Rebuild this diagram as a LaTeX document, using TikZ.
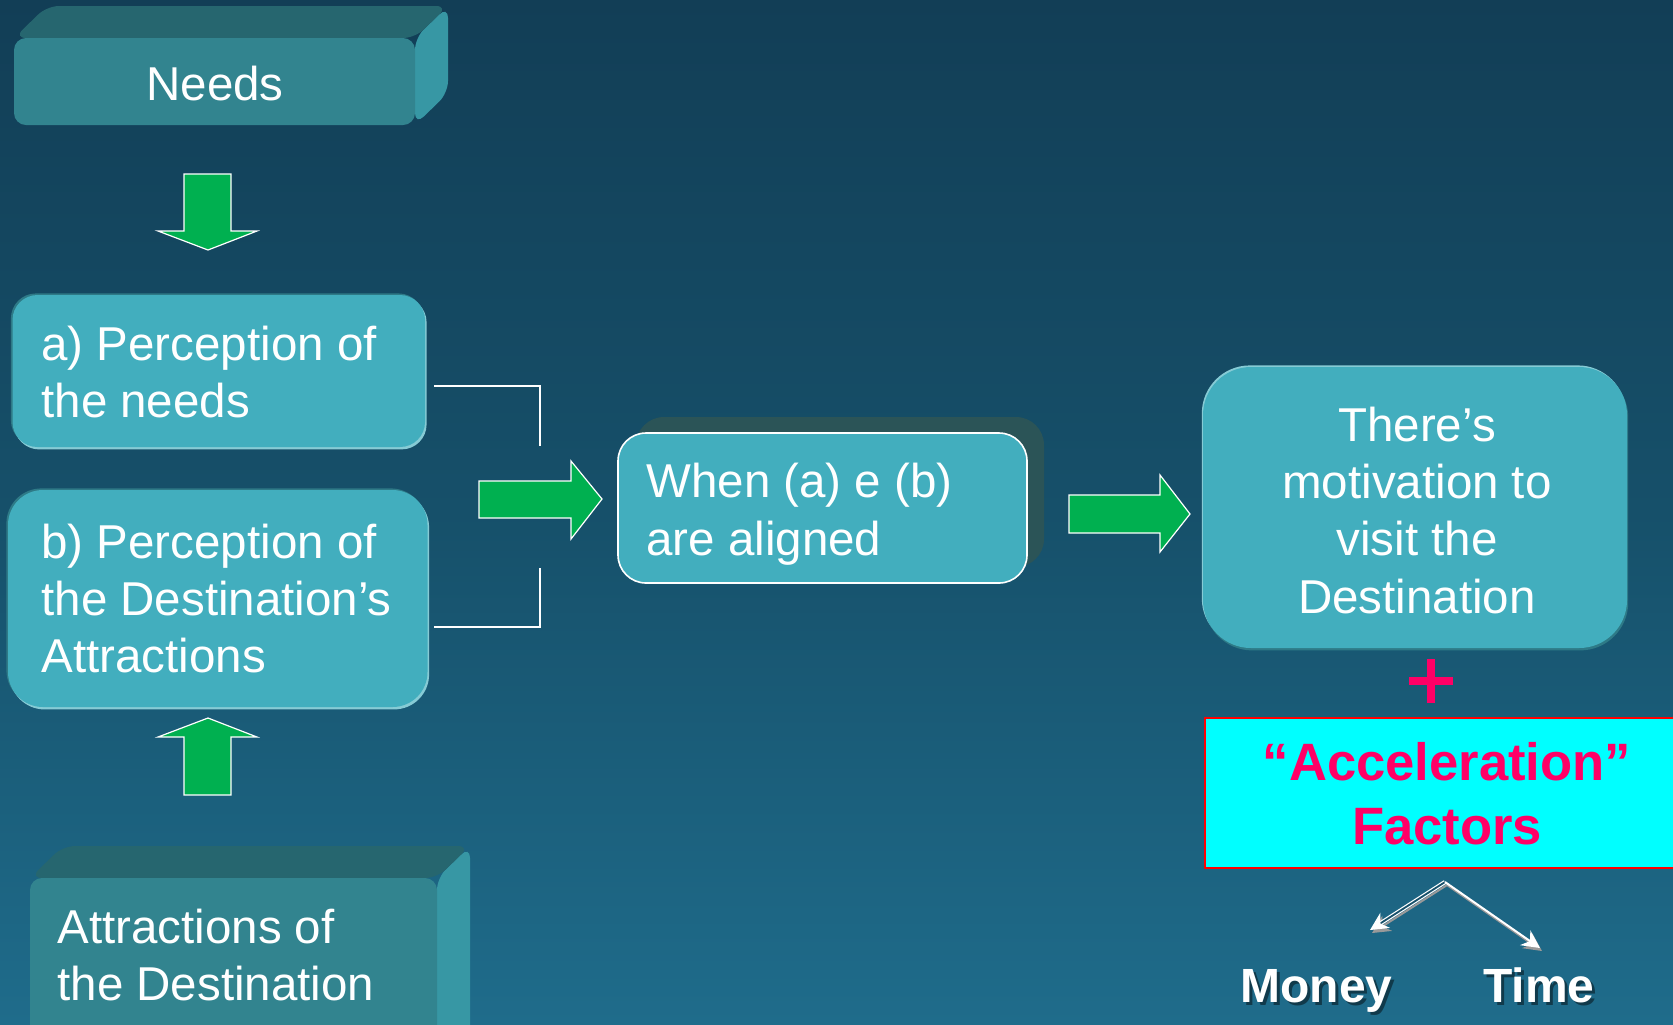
\documentclass[tikz,border=0pt]{standalone}
\usepackage{fontspec}
\setmainfont{Liberation Sans}
\usetikzlibrary{arrows.meta}

\definecolor{bgtop}{HTML}{123E56}
\definecolor{bgmid}{HTML}{16506A}
\definecolor{bgbot}{HTML}{1F6C8B}
\definecolor{tealbox}{HTML}{42AEBE}
\definecolor{tealhi}{HTML}{86CBD5}
\definecolor{teallo}{HTML}{2E7A87}
\definecolor{frontface}{HTML}{32848F}
\definecolor{topface}{HTML}{26666F}
\definecolor{sideface}{HTML}{3797A4}
\definecolor{shadowbox}{HTML}{2B5457}
\definecolor{arrowgreen}{HTML}{00B050}
\definecolor{accpink}{HTML}{FF0066}
\definecolor{accfill}{HTML}{00FFFF}
\definecolor{accline}{HTML}{FF0000}

\tikzset{
  txt/.style={text=white, inner sep=0pt, font=\fontsize{23.75}{28}\selectfont},
  boldtxt/.style={inner sep=0pt, font=\bfseries\fontsize{24}{28}\selectfont},
  tealnode/.style={fill=tealbox, inner sep=0pt, outer sep=0pt},
  greenarrow/.style={fill=arrowgreen, draw=white, line width=0.6pt, line join=miter},
  conn/.style={draw=white, line width=0.6pt},
  whitearrow/.style={draw=white, line width=1pt, -{Stealth[length=9pt,width=9pt,fill=white]}},
  greyarrow/.style={draw=gray!80, line width=1pt, -{Stealth[length=9pt,width=9pt,fill=gray!80]}},
}

\begin{document}
\begin{tikzpicture}[x=0.5pt,y=-0.5pt]
\useasboundingbox (0,0) rectangle (1673,1024);
\clip (0,0) rectangle (1673,1024);

% background
\shade[top color=bgtop, bottom color=bgbot, middle color=bgmid] (0,0) rectangle (1673,1024);

% ---- 3D box: Needs ----
\fill[sideface, rounded corners=6pt] (415,38) -- (448,6) -- (448,93) -- (415,125) -- cycle;
\fill[topface, rounded corners=6pt] (14,38) -- (47,6) -- (448,6) -- (415,38) -- cycle;
\node[fill=frontface, rounded corners=6pt, inner sep=0pt, minimum width=200.5pt, minimum height=43.5pt] (needsbox) at (214.5,81.5) {};
\node[txt, anchor=base] (needs) at (215,100) {Needs};

% ---- 3D box: Attractions of the Destination ----
\fill[sideface, rounded corners=6pt] (437,878) -- (470,846) -- (470,1040) -- (437,1072) -- cycle;
\fill[topface, rounded corners=6pt] (30,878) -- (63,846) -- (470,846) -- (437,878) -- cycle;
\node[fill=frontface, rounded corners=6pt, inner sep=0pt, minimum width=203.5pt, minimum height=90pt] (attrbox) at (233.5,968) {};
\node[txt, anchor=base west] (attr1) at (57,943) {Attractions of};
\node[txt, anchor=base west] (attr2) at (57,1000) {the Destination};

% ---- vertical arrows ----
\draw[greenarrow] (184,174) -- (231,174) -- (231,231) -- (257,231) -- (208,250) -- (158,231) -- (184,231) -- cycle;
\draw[greenarrow] (208,718) -- (257,737) -- (231,737) -- (231,795) -- (184,795) -- (184,737) -- (158,737) -- cycle;

% ---- a) and b) boxes ----
\node[tealnode, rounded corners=12.5pt, minimum width=206.25pt, minimum height=76pt,
  preaction={fill=teallo, rounded corners=12.5pt, transform canvas={shift={(-0.8pt,0.8pt)}}},
  preaction={fill=tealhi, rounded corners=12.5pt, transform canvas={shift={(0.8pt,-1.2pt)}}}]
  (abox) at (218.75,371) {};
\node[txt, anchor=base west] (a1) at (41,360) {a) Perception of};
\node[txt, anchor=base west] (a2) at (41,417) {the needs};

\node[tealnode, rounded corners=17.5pt, minimum width=209.75pt, minimum height=108.5pt,
  preaction={fill=teallo, rounded corners=17.5pt, transform canvas={shift={(-0.8pt,0.8pt)}}},
  preaction={fill=tealhi, rounded corners=17.5pt, transform canvas={shift={(0.8pt,-1.2pt)}}}]
  (bbox) at (217.75,598.5) {};
\node[txt, anchor=base west] (b1) at (41,558) {b) Perception of};
\node[txt, anchor=base west] (b2) at (41,615) {the Destination’s};
\node[txt, anchor=base west] (b3) at (41,672) {Attractions};

% ---- bracket connectors ----
\coordinate (ja) at (540,446);
\coordinate (jb) at (540,568);
\draw[conn] ([xshift=4.5pt,yshift=-7.5pt]abox.east) -| (ja);
\draw[conn] (jb) |- ([xshift=3.25pt,yshift=-14.25pt]bbox.east);

% ---- horizontal arrows ----
\draw[greenarrow] (479,481) -- (571,481) -- (571,461) -- (602,499) -- (571,539) -- (571,518) -- (479,518) -- cycle;
\draw[greenarrow] (1069,495) -- (1160,495) -- (1160,475) -- (1190,514) -- (1160,552) -- (1160,533) -- (1069,533) -- cycle;

% ---- When box ----
\node[fill=shadowbox, rounded corners=14pt, inner sep=0pt, minimum width=204pt, minimum height=75pt] (whenshadow) at (840,492) {};
\node[tealnode, draw=white, line width=0.8pt, rounded corners=14pt, minimum width=204.5pt, minimum height=75pt] (whenbox) at (822.5,508) {};
\node[txt, anchor=base west] (w1) at (646,497) {When (a) e (b)};
\node[txt, anchor=base west] (w2) at (646,555) {are aligned};

% ---- motivation box ----
\node[tealnode, rounded corners=24pt, minimum width=212pt, minimum height=140.5pt,
  preaction={fill=tealhi, rounded corners=24pt, transform canvas={shift={(-0.6pt,0.8pt)}}},
  preaction={fill=teallo, rounded corners=24pt, transform canvas={shift={(0.6pt,-1.2pt)}}}]
  (motbox) at (1415,507.5) {};
\node[txt, anchor=base] (m1) at (1417,441) {There’s};
\node[txt, anchor=base] (m2) at (1417,498) {motivation to};
\node[txt, anchor=base] (m3) at (1417,555) {visit the};
\node[txt, anchor=base] (m4) at (1417,613) {Destination};

% ---- plus sign ----
\fill[accpink] (1427,659) rectangle (1435,703);
\fill[accpink] (1409,677) rectangle (1453,685);

% ---- acceleration factors ----
\node[fill=accfill, draw=accline, line width=1pt, inner sep=0pt, minimum width=242.5pt, minimum height=75pt] (accbox) at (1447.5,793) {};
\node[boldtxt, text=accpink, font=\bfseries\fontsize{26.3}{30}\selectfont, anchor=base] (acc1) at (1447,780) {“Acceleration”};
\node[boldtxt, text=accpink, font=\bfseries\fontsize{26.3}{30}\selectfont, anchor=base] (acc2) at (1447,844) {Factors};

% ---- money / time branches ----
\coordinate (apex) at (1445,882);
\coordinate (apexs) at (1447,885);
\coordinate (mtip) at (1370,930);
\coordinate (mtips) at (1372,933);
\coordinate (ttip) at (1540,948);
\coordinate (ttips) at (1542,951);
\draw[greyarrow] (apexs) -- (mtips);
\draw[greyarrow] (apexs) -- (ttips);
\draw[whitearrow, double=bgmid, double distance=0.9pt, line width=0.6pt] (apex) -- (mtip);
\draw[whitearrow] (apex) -- (ttip);

\node[boldtxt, text=black, opacity=0.45, anchor=base west] (moneys) at (1243,1005) {Money};
\node[boldtxt, text=white, anchor=base west] (money) at (1240,1002) {Money};
\node[boldtxt, text=black, opacity=0.45, anchor=base west] (times) at (1486,1005) {Time};
\node[boldtxt, text=white, anchor=base west] (time) at (1483,1002) {Time};
\end{tikzpicture}
\end{document}
